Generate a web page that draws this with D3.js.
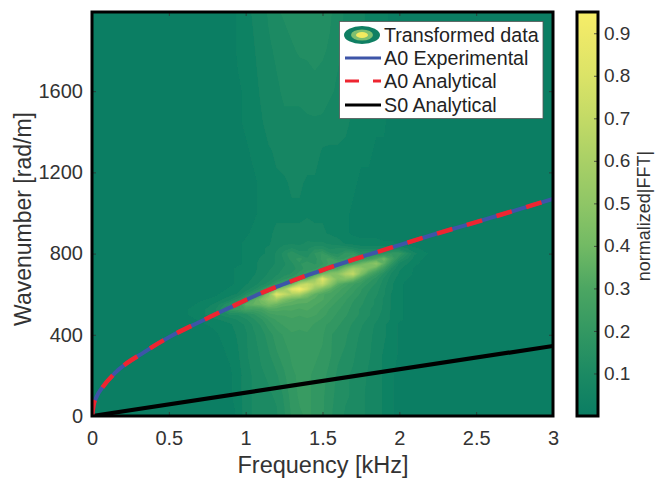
<!DOCTYPE html>
<html><head><meta charset="utf-8">
<script src="https://cdn.jsdelivr.net/npm/d3@7"></script>
<style>
html,body{margin:0;padding:0;background:#fff}
svg{display:block}
text{font-family:"Liberation Sans",Arial,sans-serif;fill:#333}
</style></head><body><svg id="c" width="655" height="478"></svg>
<script>
// ---- data ----
const xTicks=[0,0.5,1,1.5,2,2.5,3];
const yTicks=[0,400,800,1200,1600];
const cbTicks=[0.1,0.2,0.3,0.4,0.5,0.6,0.7,0.8,0.9];
const a0Freq=[0,0.01,0.03,0.07,0.15,0.34,0.53,0.7,0.8,0.9,1,1.1,1.2,1.3,1.4,1.5,1.6,1.7,1.8,1.9,2,2.25,2.5,2.75,3];
const a0Exp =[0,54,95,143,212,315,400,463,500,535,571,605,636,665,693,719,745,770,795,818,842,900,955,1012,1069];
const a0Ana =[0,54,95,143,212,315,400,463,500,535,571,605,636,665,693,719,745,770,795,818,842,900,955,1012,1069];
const s0Freq=[0,3];
const s0Ana =[0,345];
const gridFreq=[0,.6,.7,.8,.9,.95,1,1.05,1.1,1.15,1.2,1.25,1.3,1.35,1.4,1.45,1.5,1.55,1.6,1.65,1.7,1.75,1.8,1.85,1.9,1.95,2,2.1,2.2,3];
const gridWave=[0,100,200,300,400,450,475,500,525,550,575,600,625,650,675,700,725,750,775,800,825,850,900,1000,1150,1300,1450,1600,1800,1990];
const gridPct=[
[1,1,1,1,1,3,7,9,10,10,11,14,18,20,21,20,18,15,13,11,10,9,8,7,5,3,1,1,1,1],
[1,1,1,1,2,4,7,9,10,11,12,15,19,21,21,20,18,16,13,12,11,9,8,7,5,3,1,1,1,1],
[1,1,1,1,2,4,7,9,11,12,14,17,20,21,21,20,19,16,14,12,11,10,8,7,5,3,1,1,1,1],
[1,1,1,1,3,5,8,10,12,14,17,19,21,22,22,21,20,18,15,14,12,10,9,7,5,4,2,1,1,1],
[1,1,1,2,4,6,8,11,13,16,19,21,23,23,23,22,21,18,16,15,13,11,9,8,6,4,2,1,1,1],
[1,1,2,3,5,7,9,12,15,19,22,24,25,24,25,23,21,20,18,16,14,12,10,8,6,4,2,1,1,1],
[1,1,3,5,7,9,11,14,17,21,24,25,26,25,26,25,23,21,19,17,15,13,11,9,7,5,3,1,1,1],
[1,2,4,8,12,12,14,17,21,25,27,27,28,27,28,27,25,22,20,18,16,14,12,10,7,5,3,1,1,1],
[1,2,4,8,20,22,27,25,26,31,31,30,30,29,30,28,26,23,21,19,16,14,12,10,8,5,3,1,1,1],
[1,1,3,6,15,21,34,36,38,42,38,34,33,32,32,30,28,25,22,20,17,15,13,11,8,5,3,1,1,1],
[1,1,2,3,8,13,22,32,42,52,58,44,38,35,34,32,30,27,24,21,18,16,13,11,8,5,3,1,1,1],
[1,1,1,2,4,6,12,18,28,46,84,72,62,60,44,35,30,28,26,23,20,17,14,12,9,5,3,1,1,1],
[1,1,1,1,3,4,7,10,16,26,44,55,84,95,76,52,42,34,28,25,22,18,15,13,9,6,3,1,1,1],
[1,1,1,1,2,3,5,7,10,13,20,26,38,62,72,64,70,50,34,28,24,21,17,14,10,6,3,1,1,1],
[1,1,1,1,2,3,4,6,8,10,13,17,20,28,36,52,84,60,44,46,40,28,20,16,11,7,4,1,1,1],
[1,1,1,1,2,3,4,5,7,9,11,13,15,19,23,28,40,46,48,62,70,44,30,21,14,8,5,2,1,1],
[1,1,1,1,2,3,4,5,6,8,10,12,13,16,19,20,24,28,32,44,58,52,42,34,22,11,6,2,1,1],
[1,1,1,1,2,2,3,5,6,7,9,11,14,17,20,17,20,25,28,25,30,38,44,50,34,18,8,3,1,1],
[1,1,1,1,1,2,3,4,6,7,9,12,16,19,15,16,22,25,19,21,24,21,24,30,38,26,14,4,1,1],
[1,1,1,1,1,2,3,4,5,6,9,13,17,13,12,18,21,15,14,19,20,14,15,15,17,20,20,6,2,1],
[1,1,1,1,1,2,3,4,5,6,8,10,12,10,11,14,14,11,12,12,10,8,8,8,8,8,8,3,1,1],
[1,1,1,1,1,2,3,4,4,5,7,8,8,8,9,9,9,8,7,5,4,3,3,3,3,3,2,1,1,1],
[1,1,1,1,1,1,2,3,4,5,6,6,6,6,7,6,6,5,4,3,2,2,2,2,1,1,1,1,1,1],
[1,1,1,1,1,1,2,2,3,4,5,5,5,5,5,5,5,4,4,3,2,2,1,1,1,1,1,1,1,1],
[1,1,1,1,1,1,2,2,3,4,5,5,6,6,5,5,5,5,4,4,3,2,2,1,1,1,1,1,1,1],
[1,1,1,1,1,1,2,3,4,5,6,7,7,6,7,7,5,5,5,5,4,3,3,2,2,1,1,1,1,1],
[1,1,1,1,1,2,3,4,5,7,7,8,8,8,8,8,8,7,7,6,5,5,4,3,3,1,1,1,1,1],
[1,1,1,1,1,2,3,4,6,7,8,9,9,9,10,11,10,9,8,6,5,5,5,4,3,2,1,1,1,1],
[1,1,1,1,1,3,4,5,7,8,9,10,11,12,12,12,12,11,9,8,7,6,5,4,3,2,2,1,1,1],
[1,1,1,1,1,3,4,6,7,9,11,12,13,13,13,13,13,12,10,8,7,6,5,4,3,2,2,1,1,1]
];
const cmapVal=[0,.1,.2,.3,.4,.5,.6,.7,.8,.9,.95];
const cmapCol=["#0a7d63","#1c8a63","#339862","#4ca662","#72ba64","#8fc666","#a9d066","#c3da66","#dbe367","#eee968","#f6ee68"];
const legendNames=["Transformed data","A0 Experimental","A0 Analytical","S0 Analytical"];

// ---- chart ----
const svg=d3.select("#c");
const x=d3.scaleLinear([0,3],[92,553]);
const y=d3.scaleLinear([0,1990],[416,12]);
const cb=d3.scaleLinear([0,0.95],[416,12]);
const color=d3.scaleLinear(cmapVal,cmapCol);
const defs=svg.append("defs");
defs.append("clipPath").attr("id","plot").append("rect")
  .attr("x",x(0)).attr("y",y(1990)).attr("width",x(3)-x(0)).attr("height",y(0)-y(1990));
defs.append("filter").attr("id","soft").attr("x","-2%").attr("y","-2%").attr("width","104%").attr("height","104%")
  .append("feGaussianBlur").attr("stdDeviation",0.6);

const n=gridFreq.length,m=gridWave.length;
const flat=gridPct.flat().map(v=>v/100);
const step=0.03;
const levels=d3.range(0.025,0.96,step);
const contours=d3.contours().size([n,m]).smooth(true).thresholds(levels)(flat);
const ix=d3.scaleLinear(d3.range(n),gridFreq).clamp(true);
const iy=d3.scaleLinear(d3.range(m),gridWave).clamp(true);
const path=d3.geoPath(d3.geoTransform({point(px,py){this.stream.point(x(ix(px-0.5)),y(iy(py-0.5)));}}));

const heat=svg.append("g").attr("clip-path","url(#plot)");
heat.append("rect").attr("x",x(0)).attr("y",y(1990)).attr("width",x(3)-x(0)).attr("height",y(0)-y(1990)).attr("fill",color(0.005));
const inner=heat.append("g").attr("filter","url(#soft)");
inner.selectAll("path").data(contours).join("path")
  .attr("d",path).attr("fill",d=>color(d.value+step/2)).attr("stroke","none");

const line=d3.line().x(d=>x(d[0])).y(d=>y(d[1]));
const curve=line.curve(d3.curveMonotoneX);
const plot=svg.append("g").attr("clip-path","url(#plot)");
plot.append("path").attr("d",d3.line().x(d=>x(d[0])).y(d=>y(d[1]))(d3.zip(s0Freq,s0Ana)))
  .attr("fill","none").attr("stroke","#000").attr("stroke-width",4.2);
plot.append("path").attr("d",curve(d3.zip(a0Freq,a0Exp)))
  .attr("fill","none").attr("stroke","#3d55a8").attr("stroke-width",4);
plot.append("path").attr("d",curve(d3.zip(a0Freq,a0Ana)))
  .attr("fill","none").attr("stroke","#ee2530").attr("stroke-width",4.5).attr("stroke-dasharray","16 15");

// axes
function styleAxis(g,fs){
  g.select(".domain").remove();
  g.selectAll(".tick line").attr("stroke","#333").attr("stroke-width",0.8);
  g.selectAll("text").attr("font-size",fs).style("fill","#333").attr("font-family",'"Liberation Sans",Arial,sans-serif');
}
const fmt=d=>String(d);
svg.append("g").attr("transform",`translate(0,${y(0)})`)
  .call(d3.axisBottom(x).tickValues(xTicks).tickFormat(fmt).tickSize(-4).tickPadding(15))
  .call(g=>styleAxis(g,20));
svg.append("g").attr("transform",`translate(0,${y(1990)})`)
  .call(d3.axisTop(x).tickValues(xTicks).tickFormat("").tickSize(-4)).call(g=>styleAxis(g,20));
svg.append("g").attr("transform",`translate(${x(0)},0)`)
  .call(d3.axisLeft(y).tickValues(yTicks).tickFormat(fmt).tickSize(-4).tickPadding(9))
  .call(g=>styleAxis(g,20));
svg.append("g").attr("transform",`translate(${x(3)},0)`)
  .call(d3.axisRight(y).tickValues(yTicks).tickFormat("").tickSize(-4)).call(g=>styleAxis(g,20));
svg.append("rect").attr("x",x(0)).attr("y",y(1990)).attr("width",x(3)-x(0)).attr("height",y(0)-y(1990))
  .attr("fill","none").attr("stroke","#000").attr("stroke-width",3);

svg.append("text").attr("x",323).attr("y",473).attr("text-anchor","middle").attr("font-size",23.5).text("Frequency [kHz]");
svg.append("text").attr("transform","translate(31,219) rotate(-90)").attr("text-anchor","middle").attr("font-size",23).text("Wavenumber [rad/m]");

// legend
const lg=svg.append("g");
lg.append("rect").attr("x",339.5).attr("y",21.5).attr("width",203.5).attr("height",97).attr("fill","#fff").attr("stroke","#555").attr("stroke-width",0.8);
const rowY=[35,58,81,105];
lg.selectAll("text").data(legendNames).join("text").attr("x",384).attr("y",(d,i)=>rowY[i]+7).attr("font-size",19.7).style("fill","#222").text(d=>d);
[[18,9,"#0f7f63"],[11,5.6,"#7fbf70"],[6,3,"#f3ea60"]].forEach(e=>lg.append("ellipse").attr("cx",362).attr("cy",rowY[0]).attr("rx",e[0]).attr("ry",e[1]).attr("fill",e[2]));
lg.append("line").attr("x1",345).attr("x2",381).attr("y1",rowY[1]).attr("y2",rowY[1]).attr("stroke","#3d55a8").attr("stroke-width",3);
lg.append("line").attr("x1",345).attr("x2",381).attr("y1",rowY[2]).attr("y2",rowY[2]).attr("stroke","#ee2530").attr("stroke-width",3).attr("stroke-dasharray","14 14");
lg.append("line").attr("x1",345).attr("x2",381).attr("y1",rowY[3]).attr("y2",rowY[3]).attr("stroke","#000").attr("stroke-width",3);

// colorbar
const gid=defs.append("linearGradient").attr("id","cbg").attr("x1",0).attr("x2",0).attr("y1",1).attr("y2",0);
gid.selectAll("stop").data(cmapVal).join("stop").attr("offset",d=>d/0.95).attr("stop-color",d=>color(d));
svg.append("rect").attr("x",577).attr("y",cb(0.95)).attr("width",21).attr("height",cb(0)-cb(0.95)).attr("fill","url(#cbg)");
svg.append("g").attr("transform","translate(598,0)")
  .call(d3.axisRight(cb).tickValues(cbTicks).tickFormat(d3.format(".1f")).tickSize(-4).tickPadding(6))
  .call(g=>styleAxis(g,19));
svg.append("rect").attr("x",577).attr("y",cb(0.95)).attr("width",21).attr("height",cb(0)-cb(0.95)).attr("fill","none").attr("stroke","#000").attr("stroke-width",3);
svg.append("text").attr("transform","translate(650,216) rotate(-90)").attr("text-anchor","middle").attr("font-size",18).text("normalized|FFT|");
</script></body></html>
